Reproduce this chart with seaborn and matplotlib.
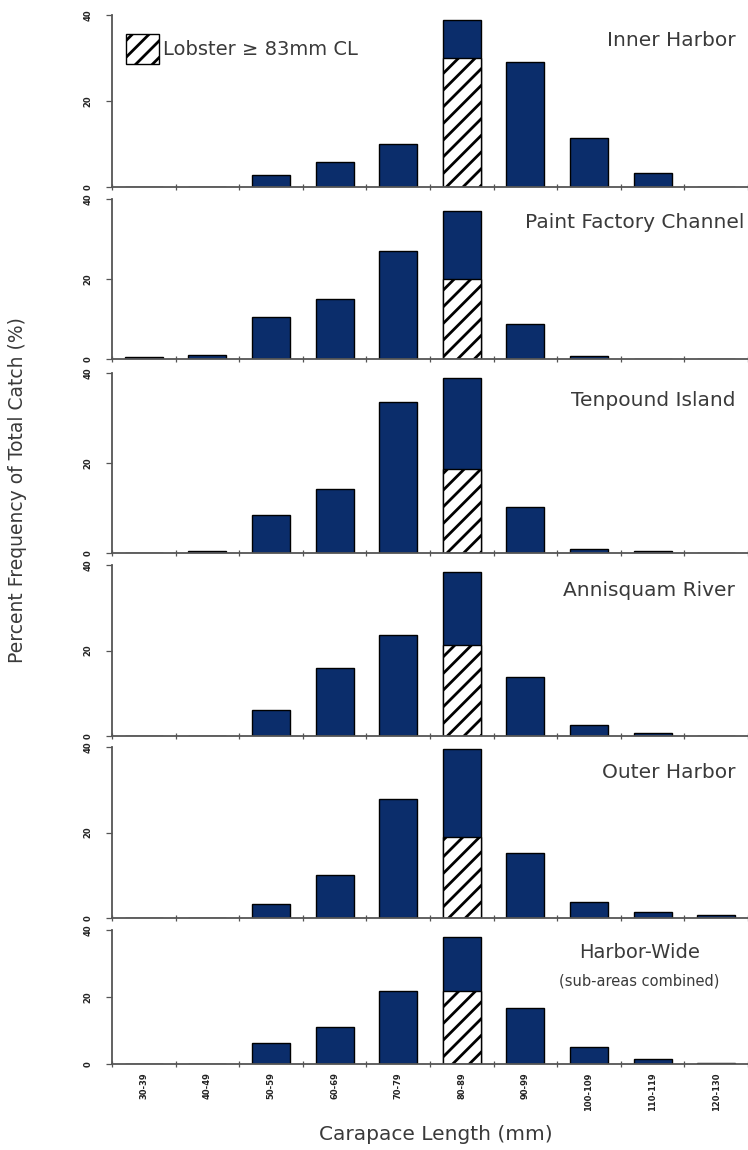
import pandas as pd
import matplotlib.pyplot as plt
import seaborn as sns
from matplotlib.patches import Patch

sns.set_theme(style="white")
plt.rcParams['font.family'] = ['DejaVu Sans']
plt.rcParams['hatch.linewidth'] = 2.0

# carapace length bins (mm)
bins = ['30-39', '40-49', '50-59', '60-69', '70-79', '80-89', '90-99',
        '100-109', '110-119', '120-130']

sites = ['Inner Harbor', 'Paint Factory Channel', 'Tenpound Island',
         'Annisquam River', 'Outer Harbor', 'Harbor-Wide']

# percent frequency of total catch per bin
inner = [0, 0, 2.8, 5.8, 10.0, 38.8, 29.1, 11.4, 3.2, 0]
paint = [0.5, 1.0, 10.5, 15.0, 27.0, 37.0, 8.7, 0.8, 0, 0]
tenpound = [0, 0.4, 8.4, 14.2, 33.5, 38.9, 10.2, 0.9, 0.5, 0]
annisquam = [0, 0, 6.1, 16.0, 23.7, 38.4, 13.8, 2.6, 0.6, 0]
outer = [0, 0, 3.3, 10.1, 27.9, 39.5, 15.1, 3.7, 1.4, 0.6]
harbor_wide = [0, 0, 6.2, 11.0, 21.9, 38.0, 16.7, 5.2, 1.6, 0.2]
totals = [inner, paint, tenpound, annisquam, outer, harbor_wide]

# share of the 80-89 bin that is >= 83 mm CL
legal = [30.0, 20.0, 18.7, 21.3, 19.0, 21.8]

navy = '#0b2d6b'
txt = '#3a3a3a'
W, H = 748, 1150
# (top px, bottom px) of each panel in the scanned figure
panels = [(15, 187), (199, 359), (373, 553), (565, 736), (747, 918), (930, 1064)]
left_px = 112

fig = plt.figure(figsize=(W / 100, H / 100), dpi=100)

for i, (site, vals) in enumerate(zip(sites, totals)):
    top, bot = panels[i]
    ax = fig.add_axes([left_px / W, 1 - bot / H, 1 - left_px / W, (bot - top) / H])
    df = pd.DataFrame({'bin': bins, 'pct': vals})
    sns.barplot(data=df, x='bin', y='pct', order=bins, color=navy, saturation=1,
                width=0.6, edgecolor='black', linewidth=1.0, ax=ax)
    leg_df = pd.DataFrame({'bin': ['80-89'], 'pct': [legal[i]]})
    sns.barplot(data=leg_df, x='bin', y='pct', order=bins, color='white', saturation=1,
                width=0.6, edgecolor='black', linewidth=1.0, hatch='//', ax=ax)

    ax.set_xlim(-0.5, 9.36)
    ax.set_ylim(0, 40)
    ax.set_yticks([0, 20, 40])
    ax.set_yticklabels(['0', '20', '40'], rotation=90, fontsize=6, va='center',
                       fontweight='bold', color='#222222')
    ax.set_xlabel('')
    ax.set_ylabel('')
    ax.set_xticks([b + 0.5 for b in range(-1, 10)], minor=True)
    ax.tick_params(axis='x', which='minor', bottom=True, direction='inout', length=5,
                   width=0.9, color='#555555')
    ax.tick_params(axis='y', which='major', left=True, direction='out', length=4,
                   width=0.9, color='#555555', pad=10)
    if i == len(sites) - 1:
        ax.set_xticks(range(len(bins)))
        ax.set_xticklabels(bins, rotation=90, fontsize=6, fontweight='bold', color='#222222')
        ax.tick_params(axis='x', which='major', bottom=True, length=0, pad=6)
    else:
        ax.set_xticks([])
    for s in ['top', 'right']:
        ax.spines[s].set_visible(False)
    for s in ['left', 'bottom']:
        ax.spines[s].set_color('#555555')
        ax.spines[s].set_linewidth(1.3)

    if site == 'Harbor-Wide':
        ax.text(0.925, 0.83, site, transform=ax.transAxes, ha='right', va='center',
                fontsize=14, color=txt)
        ax.text(0.955, 0.62, '(sub-areas combined)', transform=ax.transAxes,
                ha='right', va='center', fontsize=10.5, color=txt)
    else:
        x = 0.994 if site == 'Paint Factory Channel' else 0.98
        ax.text(x, 0.85, site, transform=ax.transAxes, ha='right', va='center',
                fontsize=14.5, color=txt)

    if i == 0:
        handle = Patch(facecolor='white', edgecolor='black', hatch='//', label='Lobster ≥ 83mm CL')
        ax.legend(handles=[handle], loc='upper left', frameon=False, fontsize=14,
                  handlelength=1.7, handleheight=2.0, handletextpad=0.2,
                  borderaxespad=0.3, bbox_to_anchor=(0.0, 0.97), labelcolor=txt)

fig.text(18 / W, 1 - 490 / H, 'Percent Frequency of Total Catch (%)', rotation=90,
         ha='center', va='center', fontsize=13.5, color=txt)
fig.text(436 / W, 1 - 1135 / H, 'Carapace Length (mm)', ha='center', va='center',
         fontsize=14.5, color=txt)

fig.savefig('out.png', dpi=100)
